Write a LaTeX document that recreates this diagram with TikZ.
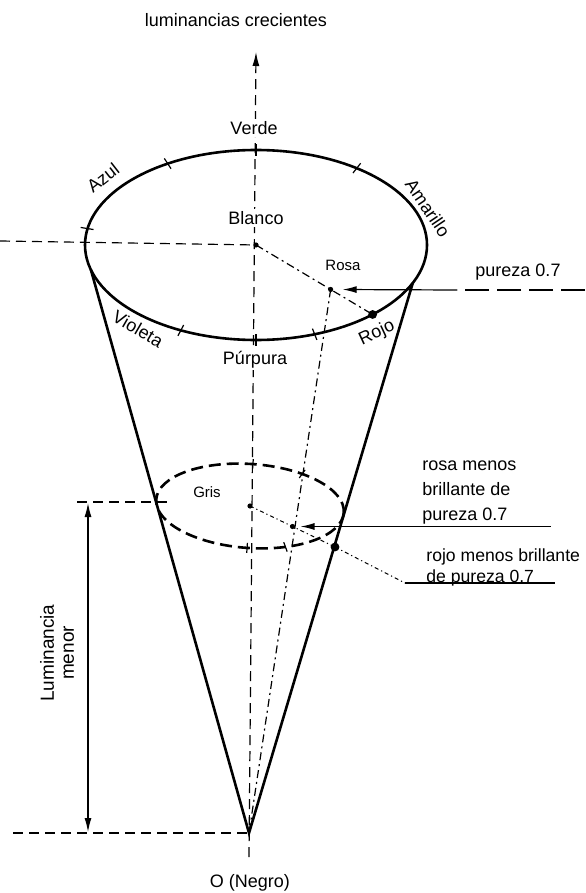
\documentclass[tikz,border=0pt]{standalone}
\usepackage{fontspec}
\setmainfont{Liberation Sans}
\usetikzlibrary{arrows.meta,positioning,calc}
\begin{document}
\begin{tikzpicture}[
  x=0.5pt, y=-0.5pt,
  lbl/.style={font=\fontsize{9}{11}\selectfont, inner sep=1pt},
  small/.style={font=\fontsize{7.5}{9}\selectfont, inner sep=1pt},
  rim/.style={line width=1.3pt},
  axis/.style={line width=0.6pt, dash pattern=on 5pt off 3pt},
  ddot/.style={line width=0.6pt, dash pattern=on 4pt off 2pt on 1pt off 2pt},
  fine/.style={line width=0.5pt, dash pattern=on 2pt off 1.5pt on 0.6pt off 1.5pt},
  lead/.style={line width=0.6pt},
  arr/.style={-{Latex[length=7pt,width=3.5pt]}}
]
\useasboundingbox (0,0) rectangle (585,893);

\coordinate (blanco) at (256,245);
\coordinate (rojo) at ($(blanco)+(47:171 and 95)$);
\coordinate (rosa) at ($(blanco)!0.64!(rojo)$);
\coordinate (apex) at (249,833);
\coordinate (gris) at (250,506);
\coordinate (rojo2) at (335,547);
\coordinate (rosa2) at ($(gris)!0.5!(rojo2)$);
\coordinate (tanL) at ($(blanco)+(165:171 and 95)$);
\coordinate (tanR) at ($(blanco)+(23.5:171 and 95)$);
\coordinate (top) at (256,52);
\coordinate (bot) at (249,857);
\coordinate (farL) at (0,241);
\coordinate (grisL) at (77,502);
\coordinate (grisR) at (167,502);
\coordinate (lumTop) at (88,503);
\coordinate (lumBot) at (88,832);
\coordinate (negroL) at (13,833);
\coordinate (purE) at (585,290);
\coordinate (purM) at (457,290);
\coordinate (rosa2E) at ($(rosa2)+(258,0)$);
\coordinate (rojoK) at (405,583);
\coordinate (rojoE) at (555,583);

\draw[axis, arr] (bot) -- (top);
\draw[axis] (farL) -- (blanco);
\draw[axis] (grisL) -- (grisR);
\draw[axis] (negroL) -- (apex);
\draw[lead, {Latex[length=7pt,width=3.5pt]}-{Latex[length=7pt,width=3.5pt]}] (lumTop) -- (lumBot);

\draw[rim] (blanco) ellipse [x radius=171, y radius=95];
\foreach \a in {-170,-121,-90,-54,70,90,116}
  \draw[lead] ($(blanco)+(\a:165 and 89)$) -- ($(blanco)+(\a:178 and 101)$);
\draw[rim] (tanL) -- (apex) -- (tanR);

\begin{scope}[rotate around={-4:(gris)}]
  \draw[rim, dash pattern=on 6pt off 3pt] (gris) ellipse [x radius=94, y radius=42];
  \foreach \a in {-90,-58,66,90}
    \draw[lead] ($(gris)+(\a:89 and 37)$) -- ($(gris)+(\a:99 and 47)$);
\end{scope}

\draw[ddot] (blanco) -- (rojo);
\draw[ddot] (rosa) -- (apex);
\draw[fine] (gris) -- (rojo2);

\draw[lead, dash pattern=on 12pt off 4pt] (purE) -- (purM);
\draw[lead, arr, shorten >=6pt] (purM) -- (rosa);
\draw[lead, arr, shorten >=4pt] (rosa2E) -- (rosa2);
\draw[fine] (rojo2) -- (rojoK);
\draw[lead] (rojoK) -- (rojoE);

\foreach \p in {blanco,rosa,gris,rosa2}
  \fill (\p) circle[radius=1.3pt];
\foreach \p in {rojo,rojo2}
  \fill (\p) circle[radius=2.2pt];

\node[lbl] (title) at (236,20) {luminancias crecientes};
\node[lbl, fill=white] (verde) at (254,128) {Verde};
\node[lbl, fill=white, above=9pt of blanco] (blancoTxt) {Blanco};
\node[lbl, fill=white] (purpura) at (255,360) {Púrpura};
\node[lbl, rotate=38] (azul) at (103,178) {Azul};
\node[lbl, rotate=-56] (amarillo) at (428,208) {Amarillo};
\node[lbl, rotate=-30] (violeta) at (138,329) {Violeta};
\node[lbl, rotate=25] (rojoLbl) at (377,333) {Rojo};
\node[small] (rosaLbl) at (343,265) {Rosa};
\node[small] (grisLbl) at (207,492) {Gris};
\node[lbl] (purTxt) at (518,272) {pureza 0.7};
\node[lbl, align=left, anchor=west, font=\fontsize{9}{12.5}\selectfont] (rosaTxt) at (420,493) {rosa menos\\brillante de\\pureza 0.7};
\node[lbl, align=left, anchor=west, font=\fontsize{8.8}{10.5}\selectfont] (rojoTxt) at (424,567) {rojo menos brillante\\de pureza 0.7};
\node[lbl, rotate=90, align=center, font=\fontsize{9.5}{10}\selectfont] (lum) at (57,653) {Luminancia\\menor};
\node[lbl] (negro) at (250,883) {O (Negro)};
\end{tikzpicture}
\end{document}
